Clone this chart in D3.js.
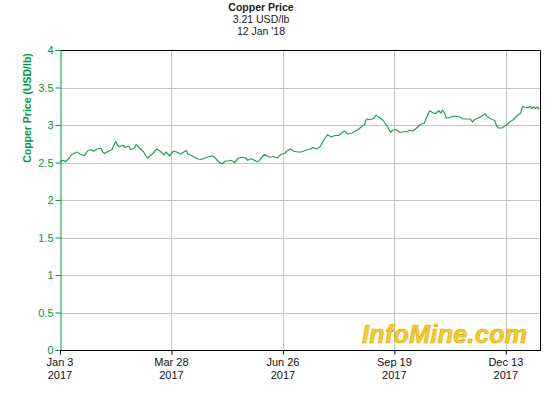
<!DOCTYPE html>
<html>
<head>
<meta charset="utf-8">
<style>
  body { margin: 0; background: #fff; }
  svg { display: block; font-family: "Liberation Sans", Arial, sans-serif; }
</style>
</head>
<body>
<div id="container"></div>
<script src="https://cdn.jsdelivr.net/npm/d3@7"></script>
<script>

// trading-day index (0 = Jan 3 2017) and copper price
const days = [0, 2, 3, 5, 6, 9, 11, 13, 14, 15, 17, 18, 20, 22, 23, 24, 26, 28, 29, 30,
  31, 32, 34, 35, 37, 38, 40, 41, 43, 45, 47, 49, 50, 52, 54, 56, 57, 59, 60, 61,
  63, 65, 66, 68, 69, 71, 74, 76, 77, 79, 82, 84, 85, 87, 88, 89, 91, 92, 94, 95,
  96, 98, 100, 101, 103, 104, 106, 107, 109, 110, 112, 113, 115, 117, 119, 121, 122, 124, 126, 128,
  130, 131, 133, 135, 136, 138, 140, 142, 144, 146, 148, 150, 151, 153, 155, 157, 159, 160, 162, 164,
  165, 167, 169, 170, 172, 174, 176, 178, 179, 181, 183, 185, 187, 188, 190, 192, 194, 196, 197, 199,
  201, 202, 204, 205, 206, 207, 208, 210, 212, 214, 215, 217, 219, 221, 222, 223, 225, 227, 229, 230,
  232, 233, 234, 235, 236, 238, 239, 241, 242, 244, 246, 248, 249, 250, 252, 253, 254, 255, 256, 257,
  258];
const prices = [2.51, 2.53, 2.51, 2.56, 2.60, 2.64, 2.61, 2.59, 2.62, 2.66, 2.67, 2.65, 2.68, 2.69, 2.64, 2.62, 2.65, 2.67, 2.73, 2.78,
  2.73, 2.71, 2.73, 2.70, 2.72, 2.67, 2.69, 2.74, 2.69, 2.64, 2.56, 2.60, 2.62, 2.68, 2.65, 2.60, 2.64, 2.59, 2.62, 2.65,
  2.64, 2.61, 2.63, 2.66, 2.61, 2.59, 2.55, 2.54, 2.55, 2.57, 2.59, 2.55, 2.52, 2.48, 2.50, 2.52, 2.52, 2.53, 2.50, 2.53,
  2.56, 2.57, 2.56, 2.53, 2.55, 2.54, 2.51, 2.52, 2.58, 2.61, 2.58, 2.57, 2.58, 2.56, 2.61, 2.62, 2.65, 2.68, 2.65, 2.64,
  2.64, 2.65, 2.67, 2.68, 2.70, 2.68, 2.71, 2.80, 2.87, 2.84, 2.86, 2.86, 2.88, 2.92, 2.88, 2.89, 2.92, 2.93, 2.97, 3.01,
  3.08, 3.07, 3.09, 3.13, 3.10, 3.06, 2.99, 2.90, 2.93, 2.94, 2.90, 2.91, 2.91, 2.93, 2.92, 2.96, 3.01, 3.02, 3.08, 3.19,
  3.16, 3.15, 3.19, 3.16, 3.20, 3.16, 3.09, 3.10, 3.12, 3.11, 3.11, 3.08, 3.08, 3.08, 3.04, 3.07, 3.09, 3.12, 3.15, 3.11,
  3.08, 3.07, 3.06, 2.99, 2.96, 2.96, 2.98, 3.01, 3.04, 3.07, 3.12, 3.16, 3.25, 3.24, 3.23, 3.25, 3.22, 3.24, 3.22, 3.24,
  3.21];

const xTickDays = [0, 60, 120, 180, 240];
const xTickDates = ["Jan 3", "Mar 28", "Jun 26", "Sep 19", "Dec 13"];
const xTickYears = ["2017", "2017", "2017", "2017", "2017"];
const yTicks = [0, 0.5, 1, 1.5, 2, 2.5, 3, 3.5, 4];

const titleLines = ["Copper Price", "3.21 USD/lb", "12 Jan '18"];

const green = "#009944";
const lineColor = "#21a05a";
const gridColor = "#c4c4c4";

const width = 560, height = 400;
const plotLeft = 60, plotRight = 540, plotTop = 50, plotBottom = 350;

const svg = d3.select("#container")
  .append("svg")
  .attr("width", width)
  .attr("height", height);

const x = d3.scaleLinear().domain([0, 258.4]).range([plotLeft, plotRight]);
const y = d3.scaleLinear().domain([0, 4]).range([plotBottom, plotTop]);

// grid
svg.append("g")
  .selectAll("line")
  .data(yTicks.slice(1, -1))
  .join("line")
  .attr("x1", plotLeft).attr("x2", plotRight)
  .attr("y1", d => Math.round(y(d)) + 0.5).attr("y2", d => Math.round(y(d)) + 0.5)
  .attr("stroke", gridColor);

svg.append("g")
  .selectAll("line")
  .data(xTickDays.slice(1))
  .join("line")
  .attr("x1", d => Math.round(x(d)) + 0.5).attr("x2", d => Math.round(x(d)) + 0.5)
  .attr("y1", plotTop).attr("y2", plotBottom)
  .attr("stroke", gridColor);

// frame (top / right)
svg.append("path")
  .attr("d", `M${plotLeft},${plotTop + 0.5}H${plotRight + 0.5}V${plotBottom}`)
  .attr("fill", "none")
  .attr("stroke", "#000");

// watermark
svg.append("text")
  .attr("x", 527)
  .attr("y", 343)
  .attr("text-anchor", "end")
  .attr("font-size", 25)
  .attr("font-weight", "bold")
  .attr("font-style", "italic")
  .attr("fill", "#f7cc2a")
  .attr("stroke", "#d9a800")
  .attr("stroke-width", 0.6)
  .attr("textLength", 165)
  .text("InfoMine.com");

// price line
const line = d3.line()
  .x((d, i) => x(days[i]))
  .y(d => y(d));

svg.append("path")
  .datum(prices)
  .attr("d", line)
  .attr("fill", "none")
  .attr("stroke", lineColor)
  .attr("stroke-width", 1.2)
  .attr("stroke-linejoin", "round");

// y axis
const yAxis = svg.append("g")
  .attr("transform", `translate(${plotLeft + 0.5},0)`)
  .call(d3.axisLeft(y).tickValues(yTicks).tickFormat(d => String(d)).tickSize(5).tickPadding(2));
yAxis.select(".domain").attr("stroke", green);
yAxis.selectAll(".tick line").attr("stroke", green);
yAxis.selectAll(".tick text")
  .attr("fill", green)
  .attr("font-size", 11)
  .attr("font-family", "Liberation Sans, Arial, sans-serif");

// x axis
const xAxis = svg.append("g")
  .attr("transform", `translate(0,${plotBottom + 0.5})`)
  .call(d3.axisBottom(x).tickValues(xTickDays).tickFormat("").tickSize(4).tickSizeOuter(0));
xAxis.select(".domain").attr("stroke", "#000").attr("d", `M${plotLeft},0H${plotRight + 1}`);
xAxis.selectAll(".tick line").attr("stroke", "#000");

const xLabels = svg.append("g")
  .selectAll("text")
  .data(xTickDays)
  .join("text")
  .attr("x", d => x(d))
  .attr("text-anchor", "middle")
  .attr("font-size", 11)
  .attr("fill", "#111");
xLabels.append("tspan").attr("x", d => x(d)).attr("y", 366).text((d, i) => xTickDates[i]);
xLabels.append("tspan").attr("x", d => x(d)).attr("y", 379).text((d, i) => xTickYears[i]);

// y axis title
svg.append("text")
  .attr("transform", "translate(31,108) rotate(-90)")
  .attr("text-anchor", "middle")
  .attr("font-size", 10.5)
  .attr("font-weight", "bold")
  .attr("fill", green)
  .text("Copper Price (USD/lb)");

// title block
svg.append("g")
  .selectAll("text")
  .data(titleLines)
  .join("text")
  .attr("x", 261)
  .attr("y", (d, i) => 11 + i * 12)
  .attr("text-anchor", "middle")
  .attr("font-size", 10.5)
  .attr("font-weight", (d, i) => i === 0 ? "bold" : "normal")
  .attr("fill", "#222")
  .text(d => d);

</script>
</body>
</html>
